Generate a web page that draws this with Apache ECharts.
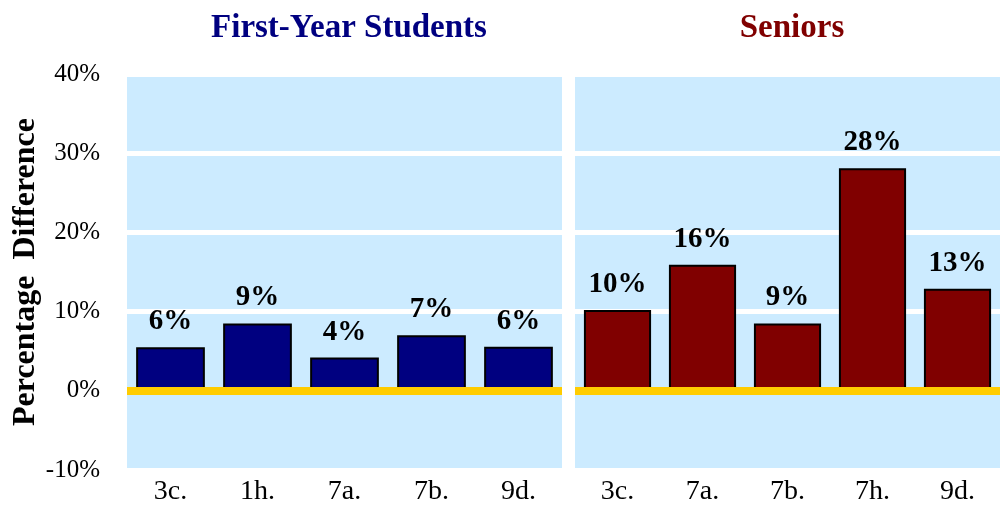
<!DOCTYPE html>
<html>
<head>
<meta charset="utf-8">
<script src="https://cdn.jsdelivr.net/npm/echarts@6/dist/echarts.min.js"></script>
<style>
html,body{margin:0;padding:0;background:#fff;}
#c{width:1005px;height:508px;}
</style>
</head>
<body>
<div id="c"></div>
<script>
var firstYearCategories = ['3c.', '1h.', '7a.', '7b.', '9d.'];
var firstYearValues = [5.5, 8.5, 4.2, 7.0, 5.55];
var seniorCategories = ['3c.', '7a.', '7b.', '7h.', '9d.'];
var seniorValues = [10.2, 15.9, 8.5, 28.1, 12.9];
var yTicks = [-10, 0, 10, 20, 30, 40];
var panelTitles = ['First-Year Students', 'Seniors'];
var yAxisTitle = 'Percentage  Difference';

var SERIF = '"Liberation Serif", "Times New Roman", serif';
var chart = echarts.init(document.getElementById('c'), null, {renderer: 'canvas'});

function yAx(idx, showLabels, name) {
  return {
    type: 'value', gridIndex: idx,
    min: yTicks[0], max: yTicks[yTicks.length - 1], interval: 10,
    axisLine: {show: false}, axisTick: {show: false},
    splitLine: {show: true, lineStyle: {color: '#ffffff', width: 5}},
    axisLabel: {show: showLabels, formatter: '{value}%', fontFamily: SERIF, fontSize: 25, color: '#000', margin: 27},
    name: name || '', nameLocation: 'middle', nameGap: 84,
    nameTextStyle: {fontFamily: SERIF, fontSize: 32, fontWeight: 'bold', color: '#000'}
  };
}
function xAx(idx, cats) {
  return {
    type: 'category', gridIndex: idx, data: cats, z: 3,
    axisLine: {show: true, onZero: true, lineStyle: {color: '#FFCC00', width: 8, cap: 'butt'}},
    axisTick: {show: false},
    axisLabel: {fontFamily: SERIF, fontSize: 28, color: '#000', margin: 8}
  };
}
function barSeries(idx, vals, color) {
  return {
    type: 'bar', xAxisIndex: idx, yAxisIndex: idx, data: vals,
    barWidth: '79%',
    itemStyle: {color: color, borderColor: '#000', borderWidth: 2},
    label: {show: true, position: 'top', distance: 11,
      formatter: function (p) { return Math.round(p.value) + '%'; },
      fontFamily: SERIF, fontSize: 29, fontWeight: 'bold', color: '#000'}
  };
}

chart.setOption({
  animation: false,
  title: [
    {text: panelTitles[0], left: 344, top: 7, textAlign: 'center',
     textStyle: {fontFamily: SERIF, fontSize: 33, fontWeight: 'bold', color: '#000080'}},
    {text: panelTitles[1], left: 787, top: 7, textAlign: 'center',
     textStyle: {fontFamily: SERIF, fontSize: 33, fontWeight: 'bold', color: '#800000'}}
  ],
  grid: [
    {left: 127, width: 435, top: 74, height: 396, show: true, backgroundColor: '#CCEBFF', borderWidth: 0},
    {left: 575, width: 425, top: 74, height: 396, show: true, backgroundColor: '#CCEBFF', borderWidth: 0}
  ],
  xAxis: [xAx(0, firstYearCategories), xAx(1, seniorCategories)],
  yAxis: [yAx(0, true, yAxisTitle), yAx(1, false)],
  series: [barSeries(0, firstYearValues, '#000080'), barSeries(1, seniorValues, '#800000')]
});
</script>
</body>
</html>
